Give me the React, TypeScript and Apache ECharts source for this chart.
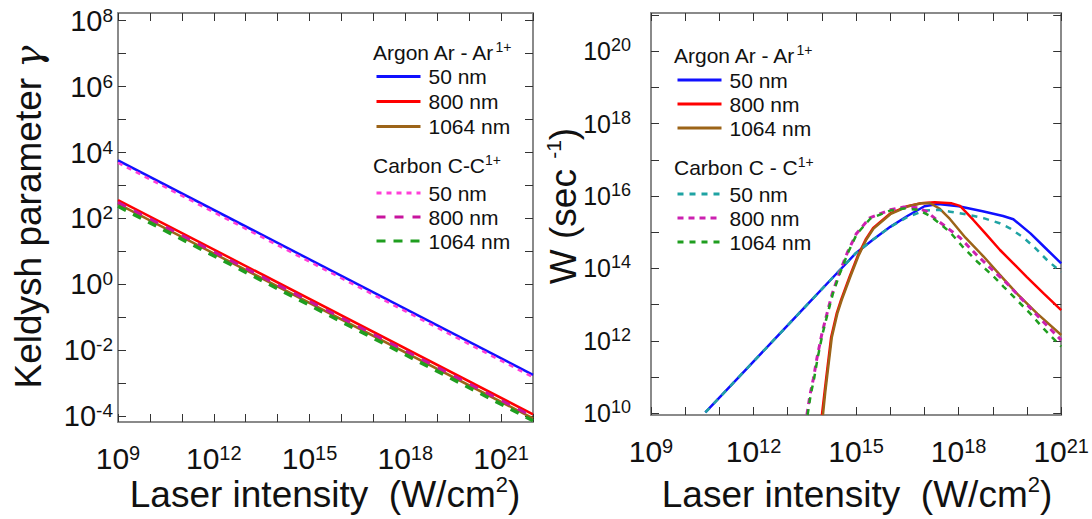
import React, { useEffect, useRef } from "react";
import * as echarts from "echarts";

const FONT = "'Liberation Sans', Arial, Helvetica, sans-serif";
const INK = "#111111";

// ---------- Left panel: Keldysh parameter (log10 values) ----------
const keldyshLogI = [9, 22];
const keldyshAr50 = [3.76, -2.74];
const keldyshAr800 = [2.56, -3.94];
const keldyshAr1064 = [2.44, -4.06];
const keldyshC50 = [3.69, -2.81];
const keldyshC800 = [2.49, -4.01];
const keldyshC1064 = [2.37, -4.13];

// ---------- Right panel: ionization rate W (log10 values) ----------
const rateAr50LogI = [10.59, 11.5, 12.5, 13.5, 14.5, 15.0, 15.5, 16.0, 16.5, 17.0, 17.4, 18.0, 18.7, 19.3, 19.6, 20.1, 20.5, 21.0];
const rateAr50 = [10.02, 10.93, 11.93, 12.93, 13.93, 14.43, 14.8, 15.15, 15.45, 15.72, 15.78, 15.72, 15.58, 15.45, 15.36, 14.97, 14.6, 14.14];

const rateAr800LogI = [14.0, 14.08, 14.13, 14.27, 14.43, 14.56, 14.81, 15.05, 15.28, 15.5, 16.0, 16.5, 16.9, 17.3, 17.8, 18.04, 18.43, 18.8, 19.21, 19.6, 19.99, 20.5, 21.0];
const rateAr800 = [9.95, 10.6, 11.0, 12.1, 12.75, 13.13, 13.77, 14.35, 14.8, 15.12, 15.52, 15.72, 15.8, 15.83, 15.8, 15.73, 15.34, 14.95, 14.51, 14.14, 13.77, 13.3, 12.85];

const rateAr1064LogI = [14.03, 14.1, 14.15, 14.29, 14.45, 14.58, 14.83, 15.07, 15.3, 15.51, 16.0, 16.5, 16.9, 17.15, 17.45, 17.75, 18.2, 18.73, 19.2, 19.7, 20.3, 21.0];
const rateAr1064 = [9.95, 10.6, 11.0, 12.1, 12.75, 13.13, 13.77, 14.35, 14.8, 15.1, 15.5, 15.71, 15.8, 15.81, 15.65, 15.36, 14.85, 14.33, 13.83, 13.31, 12.75, 12.16];

const rateC50LogI = [10.59, 12.5, 15.0, 15.5, 16.0, 16.5, 17.0, 17.4, 17.75, 18.3, 18.73, 19.2, 19.5, 19.9, 20.2, 20.6, 21.0];
const rateC50 = [10.02, 11.93, 14.43, 14.8, 15.15, 15.42, 15.6, 15.62, 15.57, 15.48, 15.39, 15.25, 15.11, 14.85, 14.6, 14.22, 13.9];

const rateC800LogI = [13.56, 13.65, 13.75, 13.85, 14.0, 14.15, 14.3, 14.5, 14.75, 15.0, 15.4, 16.0, 16.4, 16.8, 17.07, 17.36, 17.7, 18.04, 18.5, 18.92, 19.4, 19.8, 20.4, 21.0];
const rateC800 = [9.95, 10.5, 10.95, 11.5, 12.2, 12.76, 13.3, 13.85, 14.45, 14.95, 15.4, 15.62, 15.7, 15.68, 15.57, 15.34, 15.1, 14.85, 14.4, 14.02, 13.6, 13.2, 12.6, 12.02];

const rateC1064LogI = [13.58, 13.67, 13.77, 13.87, 14.02, 14.17, 14.32, 14.52, 14.77, 15.02, 15.42, 16.0, 16.4, 16.8, 17.17, 17.5, 17.75, 18.1, 18.53, 19.0, 19.31, 19.7, 20.09, 20.5, 21.0];
const rateC1064 = [9.95, 10.5, 10.95, 11.5, 12.2, 12.76, 13.3, 13.85, 14.45, 14.95, 15.38, 15.6, 15.66, 15.62, 15.45, 15.2, 15.0, 14.62, 14.2, 13.8, 13.5, 13.13, 12.76, 12.32, 11.84];

// ---------- Axis ticks / labels (exponents of 10) ----------
const leftXTicks = [9, 10, 11, 12, 13, 14, 15, 16, 17, 18, 19, 20, 21, 22];
const leftXLabels = [9, 12, 15, 18, 21];
const leftYTicks = [-4, -3, -2, -1, 0, 1, 2, 3, 4, 5, 6, 7, 8];
const leftYLabels = [-4, -2, 0, 2, 4, 6, 8];
const rightXTicks = [9, 10, 11, 12, 13, 14, 15, 16, 17, 18, 19, 20, 21];
const rightXLabels = [9, 12, 15, 18, 21];
const rightYTicks = [10, 11, 12, 13, 14, 15, 16, 17, 18, 19, 20, 21];
const rightYLabels = [10, 12, 14, 16, 18, 20];

const wavelengths = ["50 nm", "800 nm", "1064 nm"];

const pair = (xs: number[], ys: number[]) => xs.map((x, i) => [x, ys[i]]);

const powLabel = (v: number) => `{b|10}{s|${v}}`;

const richFor = (base: number, sup: number) => ({
  b: { fontSize: base, lineHeight: 30, fontFamily: FONT, color: INK },
  s: { fontSize: sup, lineHeight: 8, verticalAlign: "top", fontFamily: FONT, color: INK },
});

const AXIS_LINE = { lineStyle: { color: "#8a8a8a", width: 2 } };
const tickStyle = (values: number[]) => ({
  inside: true,
  length: 8,
  customValues: values,
  lineStyle: { color: "#333", width: 1 },
});

function makeX(gridIndex: number, min: number, max: number, ticks: number[], labels: number[] | null, position: string) {
  return {
    type: "value",
    gridIndex,
    min,
    max,
    position,
    axisLine: { onZero: false, ...AXIS_LINE },
    axisTick: tickStyle(ticks),
    splitLine: { show: false },
    axisLabel: labels
      ? { show: true, customValues: labels, margin: 21, formatter: powLabel, rich: richFor(30, 20) }
      : { show: false },
  };
}

function makeY(gridIndex: number, min: number, max: number, ticks: number[], labels: number[] | null, position: string, base: number, sup: number, margin: number) {
  return {
    type: "value",
    gridIndex,
    min,
    max,
    position,
    axisLine: { onZero: false, ...AXIS_LINE },
    axisTick: tickStyle(ticks),
    splitLine: { show: false },
    axisLabel: labels
      ? { show: true, customValues: labels, margin, formatter: powLabel, rich: richFor(base, sup) }
      : { show: false },
  };
}

type S = { id: string; label: string; color: string; width: number; dash?: number[]; xs: number[]; ys: number[]; panel: number };

const seriesDefs: S[] = [
  { id: "L Ar 50", label: wavelengths[0], color: "#1010ff", width: 2.5, xs: keldyshLogI, ys: keldyshAr50, panel: 0 },
  { id: "L Ar 800", label: wavelengths[1], color: "#ff0000", width: 2.5, xs: keldyshLogI, ys: keldyshAr800, panel: 0 },
  { id: "L Ar 1064", label: wavelengths[2], color: "#9c6418", width: 2.5, xs: keldyshLogI, ys: keldyshAr1064, panel: 0 },
  { id: "L C 50", label: wavelengths[0], color: "#ff3fd8", width: 2.5, dash: [5, 5], xs: keldyshLogI, ys: keldyshC50, panel: 0 },
  { id: "L C 800", label: wavelengths[1], color: "#c8149e", width: 3, dash: [9, 9], xs: keldyshLogI, ys: keldyshC800, panel: 0 },
  { id: "L C 1064", label: wavelengths[2], color: "#1f9e1f", width: 3.5, dash: [9, 8], xs: keldyshLogI, ys: keldyshC1064, panel: 0 },
  { id: "R Ar 50", label: wavelengths[0], color: "#1010ff", width: 2.5, xs: rateAr50LogI, ys: rateAr50, panel: 1 },
  { id: "R Ar 800", label: wavelengths[1], color: "#ff0000", width: 2.5, xs: rateAr800LogI, ys: rateAr800, panel: 1 },
  { id: "R Ar 1064", label: wavelengths[2], color: "#9c6418", width: 2.5, xs: rateAr1064LogI, ys: rateAr1064, panel: 1 },
  { id: "R C 50", label: wavelengths[0], color: "#1fa3a3", width: 2.5, dash: [6, 6], xs: rateC50LogI, ys: rateC50, panel: 1 },
  { id: "R C 800", label: wavelengths[1], color: "#cc20b0", width: 3, dash: [6, 5], xs: rateC800LogI, ys: rateC800, panel: 1 },
  { id: "R C 1064", label: wavelengths[2], color: "#1f9e1f", width: 2.5, dash: [6, 6], xs: rateC1064LogI, ys: rateC1064, panel: 1 },
];

const labelOf: Record<string, string> = {};
seriesDefs.forEach((d) => (labelOf[d.id] = d.label));

function makeLegend(names: string[], left: number, top: number, lineHeight: number) {
  return {
    orient: "vertical",
    left,
    top,
    padding: 0,
    itemGap: 0,
    itemWidth: 44,
    itemHeight: 14,
    selectedMode: false,
    data: names,
    formatter: (n: string) => labelOf[n],
    itemStyle: { opacity: 0 },
    lineStyle: { width: 3 },
    textStyle: { fontFamily: FONT, fontSize: 21, color: INK, lineHeight, padding: [0, 0, 0, 3] },
  };
}

function header(x: number, y: number, main: string, sup: string) {
  return {
    type: "text",
    x,
    y,
    style: {
      text: `{a|${main}}{s|${sup}}`,
      fill: INK,
      align: "left",
      verticalAlign: "middle",
      rich: {
        a: { fontSize: 21, fontFamily: FONT, fill: INK, lineHeight: 24 },
        s: { fontSize: 14, fontFamily: FONT, fill: INK, verticalAlign: "top", lineHeight: 4 },
      },
    },
  };
}

function title(x: number, y: number, text: string, rotation: number, size: number, supSize: number) {
  return {
    type: "text",
    x,
    y,
    rotation,
    style: {
      text,
      fill: INK,
      align: "center",
      verticalAlign: "middle",
      rich: {
        t: { fontSize: size, fontFamily: FONT, fill: INK, lineHeight: size + 4 },
        s: { fontSize: supSize, fontFamily: FONT, fill: INK, verticalAlign: "top", lineHeight: 14 },
        g: { fontSize: size, fontFamily: "'DejaVu Serif', serif", fontStyle: "italic", fill: INK, lineHeight: size + 4 },
      },
    },
  };
}

export default function App() {
  const ref = useRef<HTMLDivElement>(null);

  useEffect(() => {
    if (!ref.current) return;
    const chart = echarts.init(ref.current, null, { renderer: "svg" });

    const option: any = {
      animation: false,
      backgroundColor: "#ffffff",
      grid: [
        { left: 118, top: 13, width: 415, height: 409 },
        { left: 651, top: 13, width: 411, height: 402 },
      ],
      xAxis: [
        makeX(0, 9, 22, leftXTicks, leftXLabels, "bottom"),
        makeX(0, 9, 22, leftXTicks, null, "top"),
        makeX(1, 9, 21, rightXTicks, rightXLabels, "bottom"),
        makeX(1, 9, 21, rightXTicks, null, "top"),
      ],
      yAxis: [
        makeY(0, -4.17, 8.23, leftYTicks, leftYLabels, "left", 29, 19, 5),
        makeY(0, -4.17, 8.23, leftYTicks, null, "right", 29, 19, 5),
        makeY(1, 9.95, 21.06, rightYTicks, rightYLabels, "left", 25, 18, 20),
        makeY(1, 9.95, 21.06, rightYTicks, null, "right", 25, 18, 20),
      ],
      legend: [
        makeLegend(["L Ar 50", "L Ar 800", "L Ar 1064"], 375, 64, 25),
        makeLegend(["L C 50", "L C 800", "L C 1064"], 375, 181, 24),
        makeLegend(["R Ar 50", "R Ar 800", "R Ar 1064"], 676, 68, 24),
        makeLegend(["R C 50", "R C 800", "R C 1064"], 676, 182, 24),
      ],
      series: seriesDefs.map((d) => ({
        name: d.id,
        type: "line",
        xAxisIndex: d.panel === 0 ? 0 : 2,
        yAxisIndex: d.panel === 0 ? 0 : 2,
        data: pair(d.xs, d.ys),
        symbol: "none",
        showSymbol: false,
        clip: true,
        itemStyle: { color: d.color },
        lineStyle: { color: d.color, width: d.width, type: d.dash ? d.dash : "solid", cap: "butt" },
        emphasis: { disabled: true },
      })),
      graphic: [
        header(373, 52, "Argon Ar - Ar", "1+"),
        header(373, 165, "Carbon C-C", "1+"),
        header(674, 55, "Argon Ar - Ar", "1+"),
        header(674, 167, "Carbon C - C", "1+"),
        title(28, 217, "{t|Keldysh parameter }{g|γ}", Math.PI / 2, 37, 20),
        title(563, 206, "{t|W (sec }{s|-1}{t|)}", Math.PI / 2, 37, 21),
        title(325, 494, "{t|Laser intensity  (W/cm}{s|2}{t|)}", 0, 37, 22),
        title(857, 494, "{t|Laser intensity  (W/cm}{s|2}{t|)}", 0, 37, 22),
      ],
    };

    chart.setOption(option);
    return () => chart.dispose();
  }, []);

  return (
    <div
      ref={ref}
      style={{ position: "absolute", left: 0, top: 0, width: 1092, height: 519, background: "#fff" }}
    />
  );
}
